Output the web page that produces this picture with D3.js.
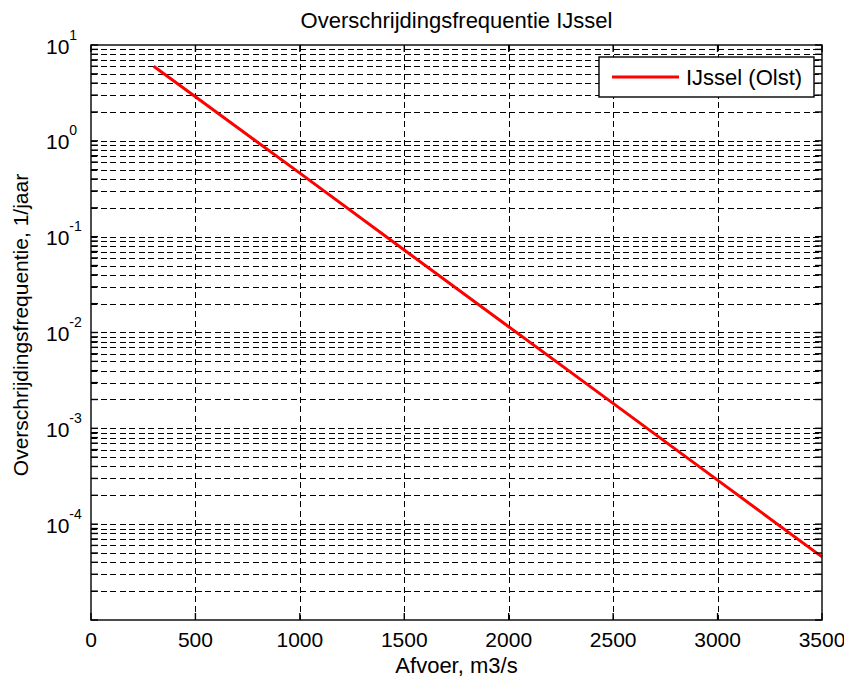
<!DOCTYPE html>
<html>
<head>
<meta charset="utf-8">
<script src="https://cdn.jsdelivr.net/npm/d3@7"></script>
<style>
  html, body { margin: 0; padding: 0; background: #fff; }
  svg { display: block; }
  text { font-family: "Liberation Sans", Arial, Helvetica, sans-serif; fill: #000; }
</style>
</head>
<body>
<svg id="chart" width="844" height="678"></svg>
<script>
// Discharge (m3/s) and exceedance frequency (1/year) for the IJssel at Olst
const afvoer = [300, 500, 1000, 1500, 2000, 2500, 3000, 3500];
const frequentie = [6.0, 2.89, 0.46, 0.0725, 0.0115, 0.00182, 0.000288, 0.0000456];

const xTicks = [0, 500, 1000, 1500, 2000, 2500, 3000, 3500];
const yDecades = [-5, -4, -3, -2, -1, 0, 1];
const yLabelExponents = [-4, -3, -2, -1, 0, 1];

const titleText = "Overschrijdingsfrequentie IJssel";
const xLabelText = "Afvoer, m3/s";
const yLabelText = "Overschrijdingsfrequentie, 1/jaar";
const legendText = "IJssel (Olst)";

const m = { left: 91, right: 822, top: 45, bottom: 620 };

const svg = d3.select("#chart");

const x = d3.scaleLinear().domain([0, 3500]).range([m.left, m.right]);
const y = d3.scaleLog().domain([1e-5, 1e1]).range([m.bottom, m.top]);

// minor values 2..9 within each decade
const minorVals = [];
yDecades.slice(0, -1).forEach(e => {
  for (let k = 2; k <= 9; k++) minorVals.push(k * Math.pow(10, e));
});
const majorVals = yDecades.map(e => Math.pow(10, e));

const grid = svg.append("g").attr("class", "grid")
  .attr("stroke", "#000").attr("stroke-width", 1.1).attr("stroke-dasharray", "6,3.5")
  .attr("shape-rendering", "crispEdges");

// horizontal grid: decades and the minor steps between them
grid.selectAll("line.h")
  .data(majorVals.concat(minorVals).filter(v => v > 1e-5 && v < 1e1))
  .join("line").attr("class", "h")
  .attr("x1", m.left).attr("x2", m.right)
  .attr("y1", d => Math.round(y(d)) + 0.5).attr("y2", d => Math.round(y(d)) + 0.5);

// vertical grid at the discharge ticks
grid.selectAll("line.v")
  .data(xTicks.filter(v => v > 0 && v < 3500))
  .join("line").attr("class", "v")
  .attr("y1", m.top).attr("y2", m.bottom)
  .attr("x1", d => Math.round(x(d)) + 0.5).attr("x2", d => Math.round(x(d)) + 0.5);

// data line
const line = d3.line().x(d => x(d[0])).y(d => y(d[1]));
svg.append("path")
  .datum(afvoer.map((a, i) => [a, frequentie[i]]))
  .attr("d", line)
  .attr("fill", "none")
  .attr("stroke", "#ff0000")
  .attr("stroke-width", 3);

// axes box with inward ticks
const tickLen = 7;
const axG = svg.append("g").attr("stroke", "#000").attr("stroke-width", 1.4);

axG.append("rect")
  .attr("x", m.left).attr("y", m.top)
  .attr("width", m.right - m.left).attr("height", m.bottom - m.top)
  .attr("fill", "none");

xTicks.forEach(v => {
  const px = x(v);
  axG.append("line").attr("x1", px).attr("x2", px).attr("y1", m.bottom).attr("y2", m.bottom - tickLen);
  axG.append("line").attr("x1", px).attr("x2", px).attr("y1", m.top).attr("y2", m.top + tickLen);
});

majorVals.concat(minorVals).forEach(v => {
  const py = y(v);
  axG.append("line").attr("x1", m.left).attr("x2", m.left + tickLen).attr("y1", py).attr("y2", py);
  axG.append("line").attr("x1", m.right).attr("x2", m.right - tickLen).attr("y1", py).attr("y2", py);
});

// x tick labels
svg.append("g").selectAll("text")
  .data(xTicks)
  .join("text")
  .attr("x", d => x(d))
  .attr("y", m.bottom + 27)
  .attr("text-anchor", "middle")
  .attr("font-size", 21)
  .text(d => d);

// y tick labels as powers of ten
const yl = svg.append("g");
yLabelExponents.forEach(e => {
  const py = y(Math.pow(10, e));
  const t = yl.append("text")
    .attr("x", 46).attr("y", py + 8.5)
    .attr("font-size", 21);
  t.append("tspan").text("10");
  t.append("tspan")
    .attr("font-size", 14)
    .attr("dy", -14)
    .text(e < 0 ? "-" + Math.abs(e) : String(e));
});

// title and axis labels
svg.append("text")
  .attr("x", (m.left + m.right) / 2).attr("y", 28)
  .attr("text-anchor", "middle").attr("font-size", 22)
  .text(titleText);

svg.append("text")
  .attr("x", (m.left + m.right) / 2).attr("y", 673)
  .attr("text-anchor", "middle").attr("font-size", 22)
  .text(xLabelText);

svg.append("text")
  .attr("transform", "translate(28, 325) rotate(-90)")
  .attr("text-anchor", "middle").attr("font-size", 21)
  .text(yLabelText);

// legend
const lg = svg.append("g");
lg.append("rect")
  .attr("x", 599).attr("y", 57).attr("width", 215).attr("height", 40)
  .attr("fill", "#fff").attr("stroke", "#000").attr("stroke-width", 1.4);
lg.append("line")
  .attr("x1", 612).attr("x2", 679).attr("y1", 77).attr("y2", 77)
  .attr("stroke", "#ff0000").attr("stroke-width", 3);
lg.append("text")
  .attr("x", 686).attr("y", 85).attr("font-size", 22)
  .text(legendText);
</script>
</body>
</html>
